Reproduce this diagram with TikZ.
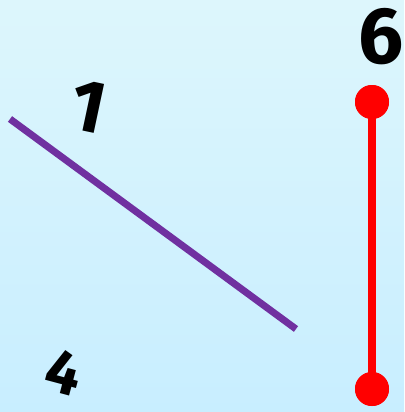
\documentclass[tikz,border=0pt]{standalone}
\usepackage{fontspec}
\setsansfont{Fira Sans}
\usepackage{tikz}
\definecolor{bgtop}{RGB}{221,246,252}
\definecolor{bgbot}{RGB}{200,238,255}
\definecolor{segpurple}{RGB}{112,48,160}
\tikzset{
  digit/.style={font=\sffamily\bfseries\fontsize{74}{74}\selectfont,inner sep=0pt},
  enddot/.style={circle,fill=red,minimum size=34pt,inner sep=0pt}
}
\begin{document}
\begin{tikzpicture}[x=1pt,y=-1pt]
  \shade[top color=bgtop,bottom color=bgbot] (0,0) rectangle (404,412);
  \useasboundingbox (0,0) rectangle (404,412);
  \coordinate (p1) at (10,119);
  \coordinate (p2) at (296,329);
  \draw[segpurple,line width=7pt] (p1) -- (p2);
  \node[enddot] (top) at (372,102) {};
  \node[enddot] (bot) at (372,389) {};
  \draw[red,line width=8pt] (top.center) -- (bot.center);
  \node[enddot] at (top) {};
  \node[enddot] at (bot) {};
  \node[digit,rotate=-12] (one) at (88,107) {1};
  \node[digit,font=\sffamily\bfseries\fontsize{80}{80}\selectfont] (six) at (381,37) {6};
  \node[digit,rotate=-15,font=\sffamily\bfseries\fontsize{62}{62}\selectfont] (four) at (64,372) {4};
\end{tikzpicture}
\end{document}
